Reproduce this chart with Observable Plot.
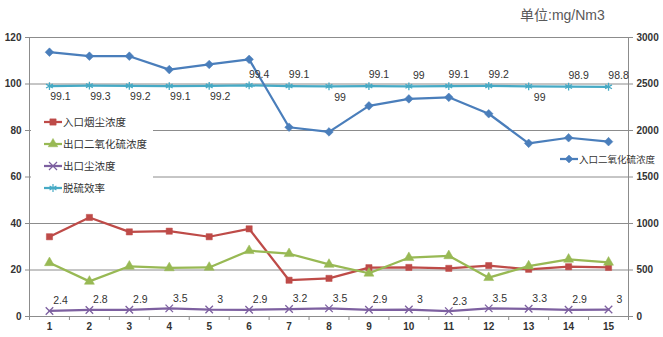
<!DOCTYPE html>
<html><head><meta charset="utf-8">
<script src="https://cdn.jsdelivr.net/npm/d3@7"></script>
<script src="https://cdn.jsdelivr.net/npm/@observablehq/plot@0.6"></script>
<style>
body{margin:0;background:#fff;}
#wrap{position:relative;width:663px;height:337px;font-family:"Liberation Sans","Noto Sans CJK SC",sans-serif;overflow:hidden;}
#wrap svg g[aria-label*="tick label"] text{font-weight:bold;fill:#333;}
.title{position:absolute;left:520px;top:4px;font-size:14px;color:#595959;white-space:nowrap;}
.legend{position:absolute;background:#fff;font-family:"Noto Sans CJK SC",sans-serif;color:#333;}
.legend .item{position:absolute;display:flex;align-items:center;white-space:nowrap;}
.legend svg{display:block;}
</style></head><body><div id="wrap"></div>
<script>
const days = [1,2,3,4,5,6,7,8,9,10,11,12,13,14,15];
const inletSO2 = [2842,2799,2799,2655,2710,2765,2035,1985,2265,2340,2357,2180,1862,1922,1880];
const inletDust = [34.3,42.6,36.4,36.7,34.3,37.7,15.6,16.4,21.0,21.1,20.7,21.9,20.3,21.4,21.1];
const outletSO2 = [23.1,15.1,21.6,20.9,21.1,28.3,27.0,22.4,18.6,25.3,26.1,16.7,21.7,24.6,23.3];
const outletDust = [2.4,2.8,2.9,3.5,3,2.9,3.2,3.5,2.9,3,2.3,3.5,3.3,2.9,3];
const efficiency = [99.1,99.3,99.2,99.1,99.2,99.4,99.1,99,99.1,99,99.1,99.2,99,98.9,98.8];
const leftTicks = [0,20,40,60,80,100,120];
const rightTicks = [0,500,1000,1500,2000,2500,3000];
const seriesNames = ["入口烟尘浓度","出口二氧化硫浓度","出口尘浓度","脱硫效率","入口二氧化硫浓度"];
const titleText = "单位:mg/Nm3";
const effLabelBelowDays = [1,2,3,4,5,8,13];

const C = {inletDust:"#BE4B48", outletSO2:"#98B954", outletDust:"#7D60A0", eff:"#46AAC5", inletSO2:"#4A7EBB"};
const K = rightTicks[rightTicks.length-1] / leftTicks[leftTicks.length-1];
const data = days.map((d,i)=>({day:d, inletSO2:inletSO2[i]/K, inletDust:inletDust[i], outletSO2:outletSO2[i], outletDust:outletDust[i], eff:efficiency[i]}));

function series(key, symbol, filled, r){
  return [
    Plot.line(data, {x:"day", y:key, stroke:C[key], strokeWidth:2.25}),
    Plot.dot(data, {x:"day", y:key, symbol, r, fill: filled ? C[key] : "none", stroke:C[key], strokeWidth: filled ? 0.5 : 1.3})
  ];
}

const chart = Plot.plot({
  width:663, height:337,
  marginLeft:29, marginRight:35, marginTop:37, marginBottom:21,
  x:{type:"linear", domain:[0.5,15.5]},
  y:{domain:[leftTicks[0], leftTicks[leftTicks.length-1]]},
  style:{fontFamily:'"Liberation Sans","Noto Sans CJK SC",sans-serif', fontSize:"10px", color:"#333", background:"#fff"},
  marks:[
    Plot.ruleY(leftTicks, {stroke:"#8c8c8c", strokeWidth:1}),
    Plot.ruleX([0.5,15.5], {stroke:"#8c8c8c", strokeWidth:1}),
    Plot.axisY({ticks:leftTicks, tickSize:4, tickPadding:4, stroke:"#8c8c8c", label:null}),
    Plot.axisY({anchor:"right", ticks:rightTicks.map(v=>v/K), tickFormat:v=>String(Math.round(v*K)), tickSize:4, tickPadding:4, stroke:"#8c8c8c", label:null}),
    Plot.axisX({ticks:d3.range(0.5,16,1), tickSize:4, tickFormat:()=>"", stroke:"#8c8c8c", label:null}),
    Plot.axisX({ticks:days, tickSize:0, tickPadding:6, label:null}),
    ...series("inletDust","square",true,3.5),
    ...series("outletSO2","triangle",true,3.7),
    ...series("outletDust","times",false,3.5),
    ...series("eff","asterisk",false,3.7),
    ...series("inletSO2","diamond2",true,3.9),
    Plot.text(data, {x:"day", y:"outletDust", text:d=>String(d.outletDust), dx:11, dy:-10, fill:"#333", fontSize:10.5}),
    Plot.text(data.filter(d=>effLabelBelowDays.includes(d.day)), {x:"day", y:"eff", text:d=>String(d.eff), dx:11, dy:11, fill:"#333", fontSize:10.5}),
    Plot.text(data.filter(d=>!effLabelBelowDays.includes(d.day)), {x:"day", y:"eff", text:d=>String(d.eff), dx:10, dy:-11, fill:"#333", fontSize:10.5})
  ]
});

const wrap = document.getElementById("wrap");
wrap.appendChild(chart);

const t = document.createElement("div");
t.className = "title"; t.textContent = titleText;
wrap.appendChild(t);

function swatch(color, symbol, filled){
  const s = d3.create("svg").attr("width",18).attr("height",12);
  s.append("line").attr("x1",0).attr("x2",18).attr("y1",6).attr("y2",6).attr("stroke",color).attr("stroke-width",2.25);
  const sym = d3.symbol().type(symbol).size(filled?40:44);
  s.append("path").attr("d",sym()).attr("transform","translate(9,6)").attr("fill",filled?color:"none").attr("stroke",color).attr("stroke-width",filled?0.5:1.2);
  return s.node();
}
const leftLegend = document.createElement("div");
leftLegend.className = "legend";
Object.assign(leftLegend.style,{left:"31px", top:"108px", width:"122px", height:"88px"});
const items = [
  [seriesNames[0], C.inletDust, d3.symbolSquare, true],
  [seriesNames[1], C.outletSO2, d3.symbolTriangle, true],
  [seriesNames[2], C.outletDust, d3.symbolTimes, false],
  [seriesNames[3], C.eff, d3.symbolAsterisk, false]
];
items.forEach((it,i)=>{
  const el = document.createElement("div");
  el.className = "item";
  Object.assign(el.style,{left:"13px", top:(6+i*22)+"px", fontSize:"10.5px"});
  el.appendChild(swatch(it[1], it[2], it[3]));
  const sp = document.createElement("span"); sp.textContent = it[0]; sp.style.marginLeft="1px";
  el.appendChild(sp);
  leftLegend.appendChild(el);
});
wrap.appendChild(leftLegend);

const rightLegend = document.createElement("div");
rightLegend.className = "legend";
Object.assign(rightLegend.style,{left:"560px", top:"152px", width:"100px", height:"16px", background:"transparent"});
const rel = document.createElement("div");
rel.className = "item";
Object.assign(rel.style,{left:"0px", top:"0px", fontSize:"9.5px"});
rel.appendChild(swatch(C.inletSO2, d3.symbolDiamond2, true));
const rsp = document.createElement("span"); rsp.textContent = seriesNames[4]; rsp.style.marginLeft="1px";
rel.appendChild(rsp);
rightLegend.appendChild(rel);
wrap.appendChild(rightLegend);
</script>
</body></html>
